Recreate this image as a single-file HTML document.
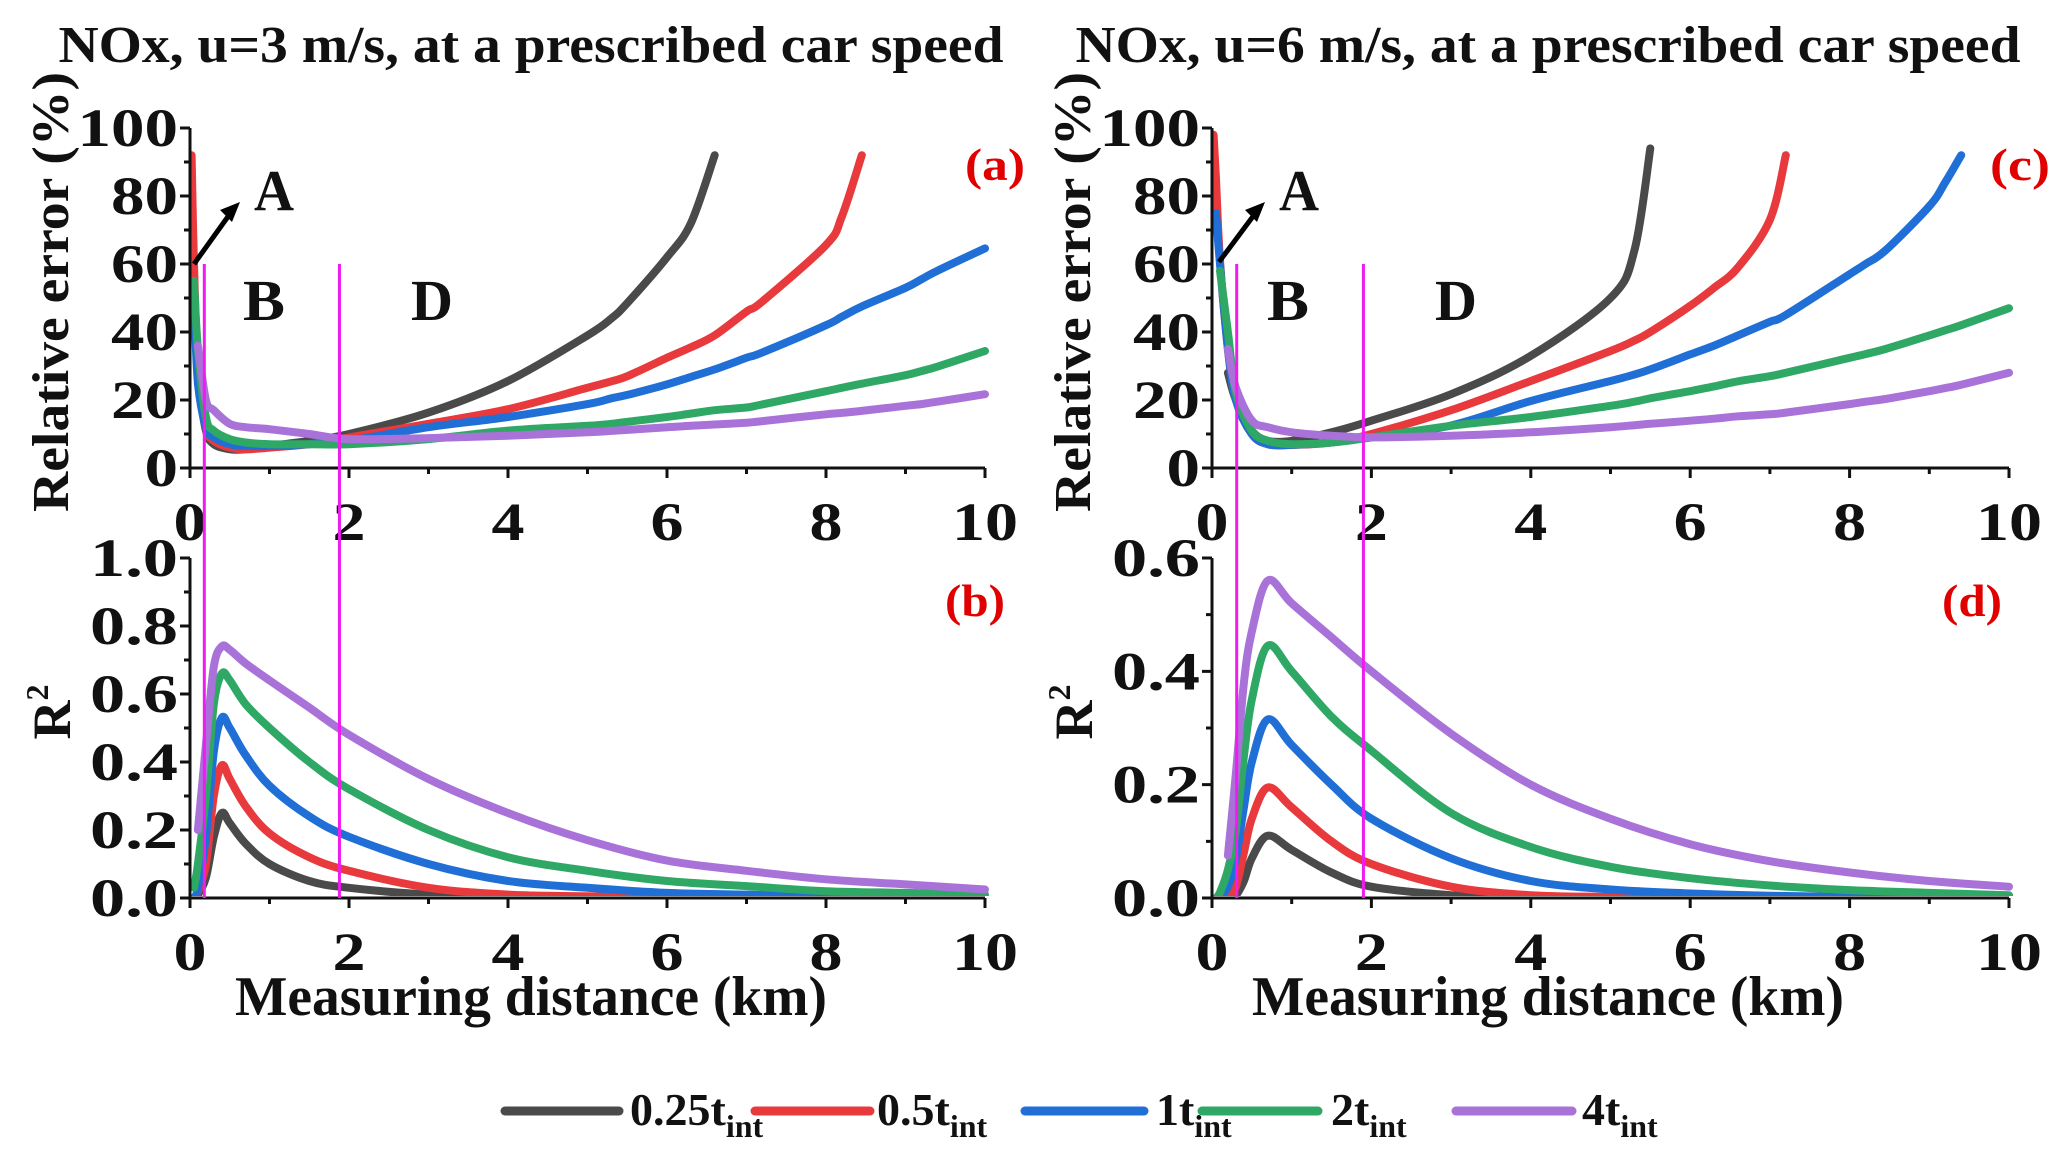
<!DOCTYPE html>
<html><head><meta charset="utf-8"><style>
html,body{margin:0;padding:0;background:#fff;}
svg{display:block;font-family:"Liberation Serif",serif;font-weight:bold;}
</style></head><body>
<svg id="fig" width="2067" height="1160" viewBox="0 0 2067 1160"></svg>
<script>
// ---------- data ----------
const seriesNames = ["0.25t","0.5t","1t","2t","4t"];
const seriesColors = ["#4a4a4a","#e8393c","#1f6fd6","#2fa866","#a972d9"];
const errX = [0.02,0.05,0.1,0.2,0.3,0.5,0.7,1,1.5,2,3,4,5,5.3,5.5,6,6.3,6.6,7,7.2,8,8.2,8.45,9,9.2,9.4,10];
const errA_black  = [null,null,25,11,7,5.5,5.5,6.5,8,10,16.3,25.6,39,44,48.5,62,72,92,null,null,null,null,null,null,null,null,null];
const errA_red    = [92,60,30,12,8,6,5.5,6,7,9,13,17.3,23.6,25.5,27,32.4,35.5,39,46,49,65.6,74,92,null,null,null,null];
const errA_blue   = [null,50,25,12,9,7,6.5,6.5,7,8,12,15,18.8,20.5,21.5,24.6,26.8,29,32.4,34,42,44.5,47.5,53,55.5,58,64.6];
const errA_green  = [null,55,35,15,11,8.5,7.5,7,7,7,8.5,11,12.4,13,13.6,15,16,17,17.8,18.7,22.6,23.6,24.8,27.3,28.5,29.8,34.4];
const errA_purple = [null,null,36,20,17,13,12,11.4,10,8.5,8.8,9.5,10.5,10.9,11.2,12,12.4,12.8,13.3,13.8,15.8,16.2,16.8,18.3,18.8,19.5,21.7];
const errC_black  = [null,null,null,28,20,11,8,8,10.5,13.9,21.7,33,50,64,94,null,null,null,null,null,null,null,null,null,null,null,null];
const errC_red    = [98,85,61,35,20,10,7,6.8,7.5,10,17,25.6,34.4,37.5,40,47.7,53,59,73,92,null,null,null,null,null,null,null];
const errC_blue   = [null,75,60,35,20,10,7,6.8,7.5,9,12.5,19.7,25.6,27.5,29,33.4,36,39,43,45,57,60,64,77,84,92,null];
const errC_green  = [null,null,58,40,22,11,8,7,7.5,9,12.4,15,18.3,19.5,20.5,22.6,24,25.5,27,28,32.4,33.5,35,39,40.5,42,47];
const errC_purple = [null,null,null,35,23.6,14,12,10.5,9.5,9,9.5,10.5,12,12.6,13,13.9,14.5,15.2,15.8,16.3,18.8,19.5,20.3,22.6,23.5,24.5,28];
const r2X = [0.05,0.1,0.2,0.3,0.4,0.5,0.7,1,1.5,2,3,4,5,6,7,8,9,10];
const r2B_black  = [0,0.01,0.06,0.18,0.25,0.22,0.16,0.1,0.05,0.03,0.01,0.003,0,0,0,0,0,0];
const r2B_red    = [0,0.02,0.1,0.3,0.39,0.35,0.27,0.19,0.12,0.08,0.03,0.01,0.005,0.002,0,0,0,0];
const r2B_blue   = [0,0.03,0.18,0.43,0.53,0.5,0.42,0.33,0.24,0.18,0.1,0.05,0.03,0.015,0.01,0.005,0.003,0.002];
const r2B_green  = [0.03,0.1,0.3,0.57,0.66,0.64,0.57,0.5,0.4,0.32,0.2,0.12,0.08,0.05,0.035,0.02,0.015,0.01];
const r2B_purple = [null,0.2,0.45,0.68,0.74,0.73,0.69,0.64,0.56,0.48,0.35,0.25,0.17,0.11,0.08,0.055,0.04,0.025];
const r2D_black  = [null,null,0,0.005,0.03,0.07,0.11,0.085,0.045,0.02,0.005,0,0,0,0,0,0,0];
const r2D_red    = [null,null,0,0.02,0.08,0.14,0.195,0.16,0.1,0.06,0.02,0.005,0.002,0,0,0,0,0];
const r2D_blue   = [null,0,0.02,0.07,0.16,0.24,0.315,0.27,0.2,0.14,0.07,0.03,0.015,0.008,0.004,0.002,0.001,0];
const r2D_green  = [0,0.01,0.05,0.12,0.25,0.35,0.445,0.4,0.32,0.26,0.15,0.09,0.055,0.035,0.022,0.014,0.009,0.005];
const r2D_purple = [null,null,0.075,0.22,0.38,0.47,0.56,0.52,0.46,0.4,0.29,0.2,0.14,0.095,0.065,0.045,0.03,0.02];
const xTicks = [0,2,4,6,8,10];
const errTicks = ["0","20","40","60","80","100"];
const r2TicksB = ["0.0","0.2","0.4","0.6","0.8","1.0"];
const r2TicksD = ["0.0","0.2","0.4","0.6"];
const regionLines = [[0.18,1.88],[0.31,1.9]];

// ---------- helpers ----------
const NS="http://www.w3.org/2000/svg";
const svg=document.getElementById('fig');
const TOP_T=128, TOP_B=468, BOT_T=558, BOT_B=898;
function mk(tag,attrs,parent){const e=document.createElementNS(NS,tag);for(const k in attrs)e.setAttribute(k,attrs[k]);(parent||svg).appendChild(e);return e;}
function txt(x,y,s,anchor,size,len,fill,parent){
  const t=mk('text',{x:x,y:y,'text-anchor':anchor||'middle','font-size':size||44,fill:fill||'#111'},parent);
  if(len){t.setAttribute('textLength',len);t.setAttribute('lengthAdjust','spacingAndGlyphs');}
  t.textContent=s;return t;}
function spline(pts){
  if(pts.length<2)return '';
  let d='M'+pts[0][0].toFixed(1)+','+pts[0][1].toFixed(1);
  for(let i=0;i<pts.length-1;i++){
    const p0=pts[i-1]||pts[i],p1=pts[i],p2=pts[i+1],p3=pts[i+2]||p2;
    const c1=[p1[0]+(p2[0]-p0[0])/6,p1[1]+(p2[1]-p0[1])/6];
    const c2=[p2[0]-(p3[0]-p1[0])/6,p2[1]-(p3[1]-p1[1])/6];
    d+='C'+c1[0].toFixed(1)+','+c1[1].toFixed(1)+' '+c2[0].toFixed(1)+','+c2[1].toFixed(1)+' '+p2[0].toFixed(1)+','+p2[1].toFixed(1);
  }
  return d;}

function panel(o){
  const g=mk('g',{});
  
  
  const sx=v=>o.x0+v/10*(o.x1-o.x0);
  const sy=v=>o.yb-v/o.ymax*(o.yb-o.yt);
  const cid='clip-'+o.name;
  const cp=mk('clipPath',{id:cid},g);
  mk('rect',{x:o.x0,y:o.yt-30,width:o.x1-o.x0+6,height:o.yb-o.yt+28},cp);
  o.series.forEach((arr,i)=>{
    const pts=[];
    arr.forEach((v,j)=>{if(v!==null)pts.push([sx(o.xs[j]),sy(v)]);});
    const p=mk('path',{d:spline(pts),fill:'none',stroke:seriesColors[i],'stroke-width':8,'stroke-linecap':'round','clip-path':'url(#'+cid+')'},g);
    
    
  });
  const ax=mk('path',{d:'M'+o.x0+','+o.yt+'V'+o.yb+'H'+o.x1,fill:'none',stroke:'#111','stroke-width':3},g);
  
  
  let tk='';
  for(let k=0;k<=10;k++){const x=sx(k);tk+='M'+x+','+o.yb+'v'+(k%2?6:10);}
  const nMinor=o.ticks.length-1;
  for(let k=0;k<=nMinor*2;k++){const y=o.yb-k/(nMinor*2)*(o.yb-o.yt);tk+='M'+o.x0+','+y+'h'+(k%2?-6:-10);}
  mk('path',{d:tk,stroke:'#111','stroke-width':3,fill:'none'},g);
  xTicks.forEach(v=>{const t=txt(sx(v),o.yb+72,String(v),'middle',54,String(v).length*33,'#111',g);
    });
  o.ticks.forEach((s,i)=>{const v=i*o.ymax/nMinor;
    const t=txt(o.x0-12,sy(v)+18,s,'end',54,s.includes('.')?88:s.length*33.5,'#111',g);
    });
  return {sx,sy,g};
}

function side(cfg){
  const top=panel({name:cfg.ids[0],x0:cfg.x0,x1:cfg.x1,yt:TOP_T,yb:TOP_B,ymax:100,ticks:errTicks,xs:errX,series:cfg.err});
  const bot=panel({name:cfg.ids[1],x0:cfg.x0,x1:cfg.x1,yt:BOT_T,yb:BOT_B,ymax:cfg.r2max,ticks:cfg.r2ticks,xs:r2X,series:cfg.r2});
  cfg.lines.forEach(v=>{const l=mk('line',{x1:top.sx(v),x2:top.sx(v),y1:top.sy(60),y2:BOT_B,stroke:'#ee1cee','stroke-width':3});
    });
  const ar=mk('g',{});
  mk('line',{x1:cfg.arrow[0],y1:cfg.arrow[1],x2:cfg.arrow[2]-8,y2:cfg.arrow[3]+9,stroke:'#000','stroke-width':5},ar);
  const ex=cfg.arrow[2],ey=cfg.arrow[3];
  mk('polygon',{points:ex+','+ey+' '+(ex-20)+','+(ey+8)+' '+(ex-8)+','+(ey+20),fill:'#000'},ar);
  [['A',cfg.letters[0],210],['B',cfg.letters[1],320],['D',cfg.letters[2],320]].forEach(a=>{
    const t=txt(a[1],a[2],a[0],'middle',58,a[0]=='A'?40:42,'#111');
    });
  let t=txt(cfg.lab[0],180,cfg.lab[2],'end',46,60,'#e00000');
  t=txt(cfg.lab[1],616,cfg.lab[3],'end',46,60,'#e00000');
  t=txt(cfg.tc,62,cfg.title,'middle',52,945,'#111');
  t=txt(cfg.tc,1015,'Measuring distance (km)','middle',56,592,'#111');
  t=txt(0,0,'Relative error (%)','middle',52,440,'#111');t.setAttribute('transform','translate('+(cfg.yt)+',292) rotate(-90)');
  
  const r=mk('text',{transform:'translate('+(cfg.yt+2)+',712) rotate(-90)','text-anchor':'middle','font-size':54,fill:'#111'});
  
  r.innerHTML='R<tspan font-size="32" dy="-22">2</tspan>';
}
side({ids:['panel-a','panel-b'],x0:190,x1:985,err:[errA_black,errA_red,errA_blue,errA_green,errA_purple],
  r2:[r2B_black,r2B_red,r2B_blue,r2B_green,r2B_purple],r2max:1.0,r2ticks:r2TicksB,lines:regionLines[0],
  arrow:[194,264,240,202],letters:[274,264,432],lab:[1025,1005,'(a)','(b)'],tc:531,title:'NOx, u=3 m/s, at a prescribed car speed',yt:68});
side({ids:['panel-c','panel-d'],x0:1212,x1:2009,err:[errC_black,errC_red,errC_blue,errC_green,errC_purple],
  r2:[r2D_black,r2D_red,r2D_blue,r2D_green,r2D_purple],r2max:0.6,r2ticks:r2TicksD,lines:regionLines[1],
  arrow:[1219,262,1265,202],letters:[1299,1288,1456],lab:[2050,2002,'(c)','(d)'],tc:1548,title:'NOx, u=6 m/s, at a prescribed car speed',yt:1090});

const legX=[[505,619,630],[755,870,877],[1025,1144,1156],[1202,1318,1331],[1456,1572,1582]];
const lg=mk('g',{});
seriesNames.forEach((n,i)=>{
  const e=mk('g',{},lg);
  
  
  mk('line',{x1:legX[i][0],x2:legX[i][1],y1:1111,y2:1111,stroke:seriesColors[i],'stroke-width':9,'stroke-linecap':'round'},e);
  const t=mk('text',{x:legX[i][2],y:1125,'font-size':46,fill:'#111'},e);
  t.innerHTML=n+'<tspan font-size="32" dy="12">int</tspan>';
});
</script>
</body></html>
